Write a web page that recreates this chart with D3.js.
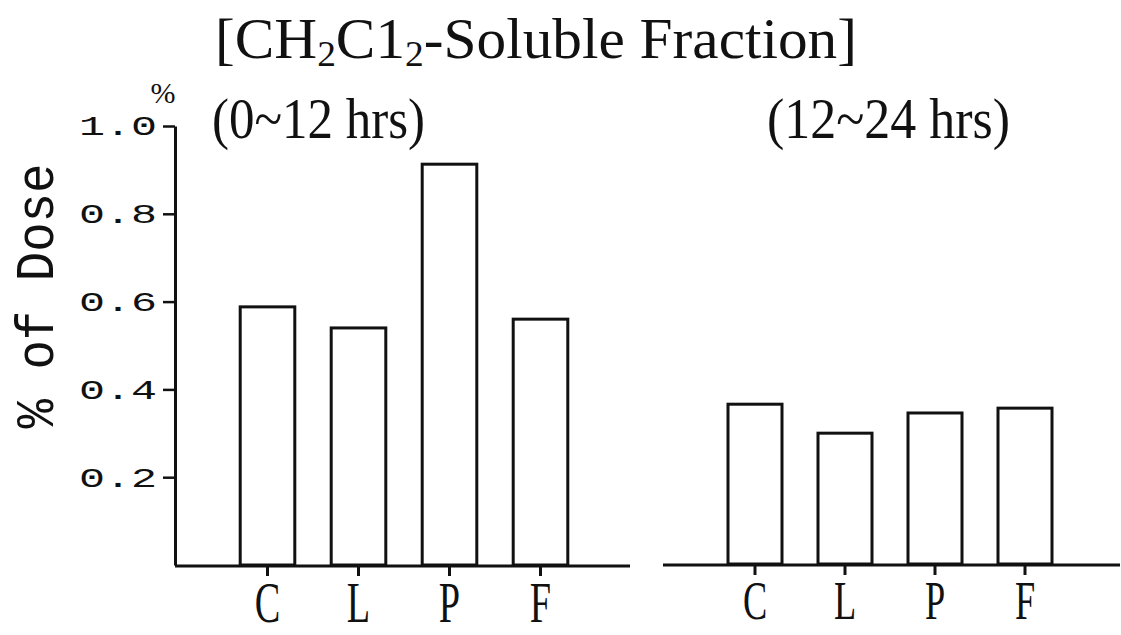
<!DOCTYPE html>
<html>
<head>
<meta charset="utf-8">
<script src="https://cdn.jsdelivr.net/npm/d3@7"></script>
<style>
  body { margin: 0; background: #fff; }
  svg { display: block; }
</style>
</head>
<body>
<div class="content"></div>
<script>
const w = 1121;
const h = 635;

// data
const categories = ['C', 'L', 'P', 'F'];
const dose0to12 = [0.588, 0.540, 0.913, 0.560];
const dose12to24 = [0.364, 0.298, 0.344, 0.355];
const yTicks = [0.2, 0.4, 0.6, 0.8, 1.0];
const panelTitles = ['(0~12 hrs)', '(12~24 hrs)'];

const ink = '#111';
const serif = '"Liberation Serif", "DejaVu Serif", serif';
const mono = '"Liberation Mono", "DejaVu Sans Mono", monospace';

const svg = d3.select('.content').append('svg')
	.attr('width', w)
	.attr('height', h);

// title
const title = svg.append('text')
	.attr('x', 215)
	.attr('y', 58)
	.attr('textLength', 642)
	.attr('lengthAdjust', 'spacingAndGlyphs')
	.style('font-family', serif)
	.style('font-size', '57px')
	.attr('fill', ink);
title.append('tspan').text('[CH');
title.append('tspan').attr('dy', 8).style('font-size', '36px').text('2');
title.append('tspan').attr('dy', -8).text('C1');
title.append('tspan').attr('dy', 8).style('font-size', '36px').text('2');
title.append('tspan').attr('dy', -8).text('-Soluble Fraction]');

// panels
const panels = [
	{ values: dose0to12, base: 565, band: [222, 586], line: [175, 630], label: 58, sub: [212, 425] },
	{ values: dose12to24, base: 564, band: [710, 1070], line: [663, 1120], label: 55, sub: [767, 1010] }
];

panels.forEach((p, i) => {
	const y = d3.scaleLinear().domain([0, 1]).range([p.base, p.base - 439]);
	const x = d3.scaleBand()
		.domain(categories)
		.range(p.band)
		.paddingInner(0.4)
		.paddingOuter(0.2);

	const g = svg.append('g');

	g.selectAll('rect')
		.data(p.values)
		.enter()
		.append('rect')
		.attr('x', (d, j) => x(categories[j]))
		.attr('y', d => y(d))
		.attr('width', x.bandwidth())
		.attr('height', d => y(0) - y(d))
		.attr('fill', 'none')
		.attr('stroke', ink)
		.attr('stroke-width', 3);

	// baseline
	g.append('line')
		.attr('x1', p.line[0])
		.attr('x2', p.line[1])
		.attr('y1', y(0) + 1)
		.attr('y2', y(0) + 1)
		.attr('stroke', ink)
		.attr('stroke-width', 3);

	const xAxis = g.append('g')
		.attr('transform', `translate(0,${y(0) + 1})`)
		.call(d3.axisBottom(x).tickSize(10).tickPadding(5).tickSizeOuter(0));
	xAxis.select('.domain').remove();
	xAxis.selectAll('.tick line').attr('stroke', ink).attr('stroke-width', 3);
	xAxis.selectAll('.tick text')
		.attr('fill', ink)
		.attr('transform', 'scale(0.66,1)')
		.style('font-family', serif)
		.style('font-size', p.label + 'px');

	// panel subtitle
	g.append('text')
		.attr('x', p.sub[0])
		.attr('y', 138)
		.attr('textLength', p.sub[1] - p.sub[0])
		.attr('lengthAdjust', 'spacingAndGlyphs')
		.style('font-family', serif)
		.style('font-size', '58px')
		.attr('fill', ink)
		.text(panelTitles[i]);

	if (i === 0) {
		const yAxis = g.append('g')
			.attr('transform', 'translate(175,0)')
			.call(d3.axisLeft(y)
				.tickValues(yTicks)
				.tickFormat(d3.format('.1f'))
				.tickSize(12)
				.tickPadding(6)
				.tickSizeOuter(0));
		yAxis.select('.domain').attr('stroke', ink).attr('stroke-width', 3);
		yAxis.selectAll('.tick line').attr('stroke', ink).attr('stroke-width', 2.5);
		yAxis.selectAll('.tick text')
			.attr('fill', ink)
			.attr('textLength', 78)
			.attr('lengthAdjust', 'spacingAndGlyphs')
			.style('font-family', mono)
			.style('font-size', '28px');

		g.append('text')
			.attr('x', 163)
			.attr('y', 103)
			.attr('text-anchor', 'middle')
			.style('font-family', serif)
			.style('font-size', '30px')
			.attr('fill', ink)
			.text('%');

		g.append('text')
			.attr('transform', 'translate(53,296) rotate(-90)')
			.attr('text-anchor', 'middle')
			.attr('textLength', 265)
			.attr('lengthAdjust', 'spacingAndGlyphs')
			.style('font-family', mono)
			.style('font-size', '54px')
			.attr('fill', ink)
			.text('% of Dose');
	}
});
</script>
</body>
</html>
